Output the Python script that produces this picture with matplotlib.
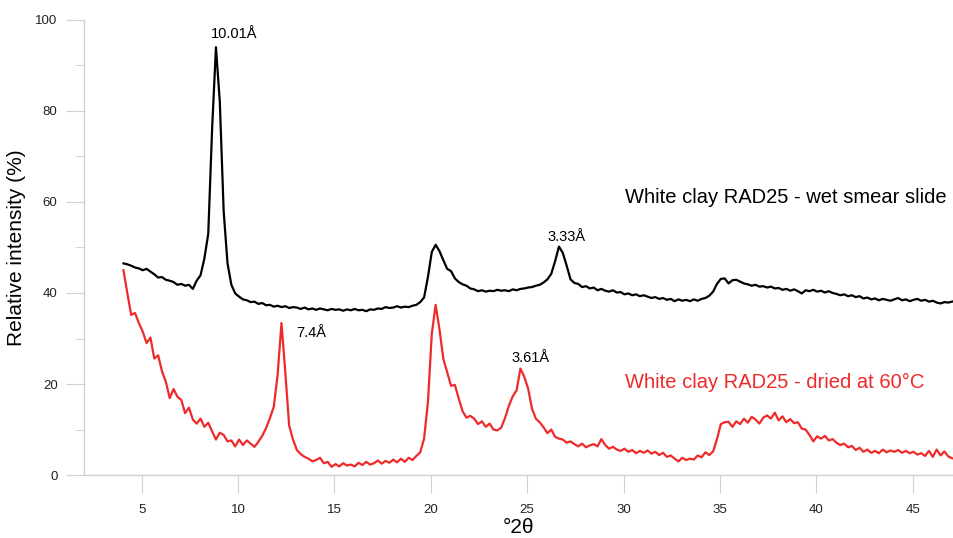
import numpy as np
import matplotlib.pyplot as plt

plt.rcParams['font.family'] = ['Liberation Sans', 'DejaVu Sans']

# 2-theta grid (0.2 deg steps from 4.05 to 47.05)
two_theta = np.round(np.arange(4.05, 47.06, 0.2), 2)

wet_smear = [
    46.5, 46.3, 46.0, 45.6, 45.4, 45.0, 45.3, 44.7, 44.1, 43.4,
    43.5, 42.9, 42.7, 42.4, 41.8, 42.0, 41.6, 41.8, 40.9, 42.7,
    43.9, 47.6, 53.0, 76.0, 94.0, 82.0, 58.0, 46.5, 41.8, 39.9,
    39.2, 38.6, 38.4, 38.0, 38.1, 37.6, 37.8, 37.3, 37.4, 37.0,
    37.2, 36.9, 37.1, 36.7, 36.9, 36.8, 36.5, 36.8, 36.4, 36.6,
    36.3, 36.6, 36.4, 36.2, 36.5, 36.3, 36.4, 36.1, 36.4, 36.2,
    36.5, 36.2, 36.3, 36.0, 36.4, 36.3, 36.6, 36.5, 36.9, 36.7,
    36.8, 37.1, 36.8, 37.0, 36.9, 37.2, 37.4, 38.0, 39.0, 43.5,
    49.0, 50.6, 49.2, 47.2, 45.3, 44.8, 43.2, 42.4, 41.9, 41.6,
    41.0, 40.8, 40.4, 40.6, 40.3, 40.5, 40.4, 40.7, 40.5, 40.6,
    40.4, 40.8, 40.6, 40.9, 41.0, 41.2, 41.3, 41.6, 41.8, 42.3,
    43.0, 44.2, 47.0, 50.2, 48.8, 46.0, 43.0, 42.2, 42.0, 41.3,
    41.5, 41.0, 41.2, 40.6, 40.9, 40.5, 40.3, 40.6, 40.1, 40.2,
    39.7, 39.9, 39.5, 39.7, 39.3, 39.5, 39.2, 38.9, 39.1, 38.7,
    38.9, 38.5, 38.7, 38.2, 38.6, 38.3, 38.5, 38.2, 38.6, 38.3,
    38.7, 38.9, 39.4, 40.3, 42.0, 43.1, 43.2, 42.1, 42.8, 42.9,
    42.5, 42.1, 41.9, 41.6, 41.8, 41.4, 41.5, 41.2, 41.4, 41.0,
    41.1, 40.7, 40.9, 40.5, 40.8, 40.4, 39.9, 40.6, 40.4, 40.7,
    40.3, 40.5, 40.1, 40.4, 40.0, 39.8, 39.5, 39.7, 39.3, 39.5,
    39.1, 39.3, 38.8, 39.0, 38.6, 38.8, 38.4, 38.7, 38.5, 38.3,
    38.6, 38.9, 38.4, 38.6, 38.2, 38.5, 38.7, 38.3, 38.5, 38.1,
    38.3, 37.9, 37.7, 38.0, 37.9, 38.1,
]

dried_60 = [
    45.0, 40.0, 35.2, 35.6, 33.4, 31.5, 29.0, 30.2, 25.6, 26.3,
    22.8, 20.5, 16.9, 18.9, 17.2, 16.5, 13.6, 14.8, 12.2, 11.3,
    12.4, 10.6, 11.5, 9.6, 7.8, 9.3, 8.8, 7.4, 7.6, 6.3,
    7.8, 6.6, 7.6, 6.9, 6.2, 7.3, 8.6, 10.3, 12.5, 15.0,
    22.0, 33.4, 22.5, 10.8, 7.8, 5.5, 4.6, 4.0, 3.6, 3.0,
    3.3, 3.8, 2.6, 2.9, 1.8, 2.4, 1.9, 2.6, 2.1, 2.3,
    1.9, 2.7, 2.2, 2.9, 2.3, 2.6, 3.2, 2.5, 3.1, 2.7,
    3.4, 2.8, 3.6, 2.9, 3.8, 3.3, 4.2, 5.0, 8.0, 16.0,
    31.0, 37.4, 32.0, 25.5, 22.6, 19.6, 19.8, 16.8, 14.0, 12.6,
    13.0, 12.4, 11.2, 11.8, 10.6, 11.3, 10.0, 9.8, 10.4, 12.5,
    15.2, 17.3, 18.6, 23.4, 21.6, 19.0, 14.6, 12.4, 11.6, 10.5,
    9.2, 10.0, 8.4, 8.0, 7.8, 7.1, 7.4, 6.8, 6.3, 6.9,
    6.1, 6.5, 6.8, 6.3, 7.9, 6.6, 5.8, 6.2, 5.6, 5.3,
    5.8, 5.1, 5.5, 4.8, 5.3, 4.9, 5.4, 4.7, 5.1, 4.4,
    4.9, 4.0, 4.3, 3.6, 3.0, 3.8, 3.3, 3.6, 3.4, 4.3,
    3.9, 5.0, 4.4, 5.2, 7.9, 11.2, 11.6, 11.7, 10.6, 11.8,
    11.2, 12.4, 11.5, 12.8, 12.2, 11.3, 12.6, 13.1, 12.4, 13.7,
    12.0, 12.9, 11.6, 12.3, 11.4, 11.6, 10.2, 10.0, 8.8, 7.4,
    8.5, 8.0, 8.6, 7.6, 7.9, 7.1, 6.6, 6.9, 6.1, 6.4,
    5.5, 6.0, 5.1, 5.6, 4.9, 5.3, 4.8, 5.6, 5.0, 5.4,
    5.1, 5.5, 4.9, 5.3, 4.8, 5.1, 4.5, 4.8, 4.2, 5.3,
    4.0, 5.6, 4.3, 5.2, 4.1, 3.7,
]

fig = plt.figure(figsize=(9.54, 5.38), dpi=100)
ax = fig.add_axes([0.088, 0.117, 0.912, 0.846])

ax.plot(two_theta, wet_smear, color='black', lw=1.6)
ax.plot(two_theta, dried_60, color='#ee2a2a', lw=1.6)

ax.set_xlim(2, 47.15)
ax.set_ylim(0, 100)
ax.set_xticks([5, 10, 15, 20, 25, 30, 35, 40, 45])
ax.set_yticks([0, 20, 40, 60, 80, 100])
ax.set_yticks([10, 30, 50, 70, 90], minor=True)

for s in ['top', 'right']:
    ax.spines[s].set_visible(False)
for s in ['left', 'bottom']:
    ax.spines[s].set_color('#d0d0d0')
    ax.spines[s].set_linewidth(1.0)
ax.tick_params(axis='both', which='major', length=13, color='#d0d0d0',
               labelsize=9.5, labelcolor='#222222', pad=6)
ax.tick_params(axis='x', which='major', pad=8)
ax.tick_params(axis='y', which='minor', length=6.5, color='#d0d0d0')

ax.set_xlabel('°2θ', fontsize=15, labelpad=1)
ax.set_ylabel('Relative intensity (%)', fontsize=15, labelpad=7)

ax.text(9.8, 96.9, '10.01Å', fontsize=10.5, ha='center', va='center')
ax.text(27.05, 52.3, '3.33Å', fontsize=10.5, ha='center', va='center')
ax.text(13.0, 31.2, '7.4Å', fontsize=10.5, ha='left', va='center')
ax.text(25.2, 25.7, '3.61Å', fontsize=10.5, ha='center', va='center')

ax.text(30.07, 60.9, 'White clay RAD25 - wet smear slide', fontsize=14.5,
        ha='left', va='center', color='black')
ax.text(30.07, 20.4, 'White clay RAD25 - dried at 60°C', fontsize=14.5,
        ha='left', va='center', color='#ee2a2a')

plt.savefig('out.png', dpi=100)
